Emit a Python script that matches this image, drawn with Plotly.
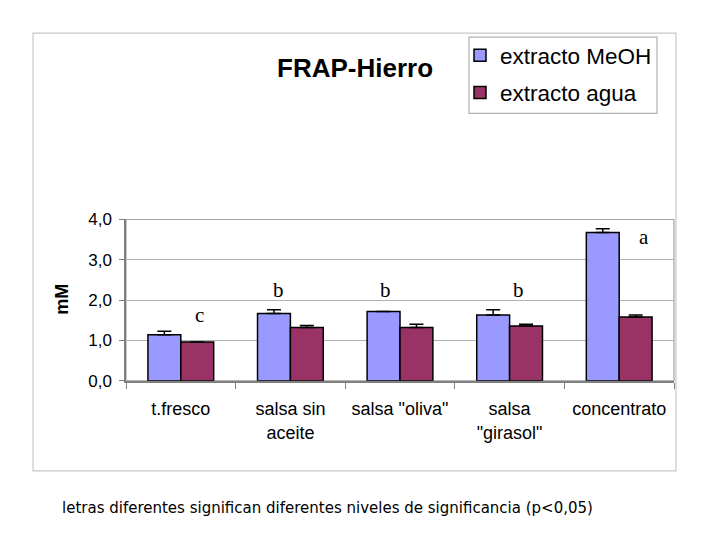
import plotly.graph_objects as go

categories = ["t.fresco", "salsa sin<br>aceite", 'salsa "oliva"', 'salsa<br>"girasol"', "concentrato"]
meoh = [1.14, 1.67, 1.72, 1.63, 3.68]
meoh_err = [0.09, 0.09, 0.0, 0.13, 0.09]
agua = [0.96, 1.32, 1.32, 1.36, 1.58]
agua_err = [0.0, 0.05, 0.08, 0.04, 0.05]
letters = ["c", "b", "b", "b", "a"]
letter_x = [0.17, 0.89, 1.87, 3.08, 4.23]
letter_y = [1.62, 2.26, 2.26, 2.26, 3.57]

W, H = 720, 540
# page offset / vertical scale seen in the snapshot
OX = 8
SY, BY = 0.963, 16.9
px0, px1, py0, py1 = 126, 674, 219, 380


def fx(p):
    return (p - OX) / W


def fy(p):
    return 1 - ((p - BY) / SY) / H


fig = go.Figure()
fig.add_trace(go.Bar(
    x=categories, y=meoh, name="extracto MeOH", legendgroup="m",
    marker=dict(color="#9999FF", line=dict(color="black", width=1.5)),
    error_y=dict(type="data", array=meoh_err, symmetric=False, color="black", thickness=1.5, width=7),
))
fig.add_trace(go.Bar(
    x=categories, y=agua, name="extracto agua", legendgroup="a",
    marker=dict(color="#993366", line=dict(color="black", width=1.5)),
    error_y=dict(type="data", array=agua_err, symmetric=False, color="black", thickness=1.5, width=7),
))

for lx, ly, t in zip(letter_x, letter_y, letters):
    fig.add_annotation(x=lx, y=ly, text=t, showarrow=False,
                       font=dict(family="Liberation Serif", size=21, color="black"))

# outer chart frame, plot area frame, legend frame
fig.add_shape(type="rect", xref="paper", yref="paper",
              x0=fx(33), x1=fx(676), y0=fy(470), y1=fy(33),
              line=dict(color="#c8c8c8", width=1.2), layer="below")
fig.add_shape(type="rect", xref="paper", yref="paper",
              x0=fx(px0), x1=fx(px1), y0=fy(py1), y1=fy(py0),
              line=dict(color="#a0a0a0", width=1.2), layer="below")
fig.add_shape(type="rect", xref="paper", yref="paper",
              x0=fx(469), x1=fx(657), y0=fy(113), y1=fy(37),
              line=dict(color="#b0b0b0", width=1.2), fillcolor="white", layer="below")

fig.add_annotation(xref="paper", yref="paper", x=fx(355), y=fy(68), xanchor="center", yanchor="middle",
                   text="<b>FRAP-Hierro</b>", showarrow=False,
                   font=dict(family="Liberation Sans", size=26, color="black"))
fig.add_annotation(xref="paper", yref="paper", x=fx(62), y=fy(299), xanchor="center", yanchor="middle",
                   text="<b>mM</b>", textangle=-90, showarrow=False,
                   font=dict(family="Liberation Sans", size=18, color="black"))
fig.add_annotation(xref="paper", yref="paper", x=fx(60), y=fy(507), xanchor="left", yanchor="middle",
                   text="letras diferentes significan diferentes niveles de significancia (p<0,05)",
                   showarrow=False, font=dict(family="Comic Sans MS, DejaVu Sans", size=15, color="black"))

fig.update_layout(
    width=W, height=H,
    margin=dict(l=0, r=0, t=0, b=0),
    paper_bgcolor="white", plot_bgcolor="white",
    barmode="group", bargap=0.4, bargroupgap=0,
    separators=",.",
    font=dict(family="Liberation Sans", size=16, color="black"),
    legend=dict(x=fx(460), y=fy(34), xanchor="left", yanchor="top",
                bgcolor="rgba(0,0,0,0)", borderwidth=0,
                font=dict(size=22.5), itemwidth=30, traceorder="grouped", tracegroupgap=5),
    xaxis=dict(domain=[fx(px0), fx(px1)], showline=True, linecolor="#808080", linewidth=1.5,
               ticks="outside", tickson="boundaries", ticklen=6, tickcolor="#808080",
               tickfont=dict(size=18), ticklabelstandoff=11),
    yaxis=dict(domain=[fy(py1), fy(py0)], range=[0, 4], dtick=1, tickformat=".1f",
               showline=True, linecolor="#808080", linewidth=1.5, ticks="outside", ticklen=5,
               tickcolor="#808080", showgrid=True, gridcolor="#b0b0b0", gridwidth=1,
               tickfont=dict(size=17), ticklabelstandoff=4, zeroline=False),
)

fig.write_html("out.html")
